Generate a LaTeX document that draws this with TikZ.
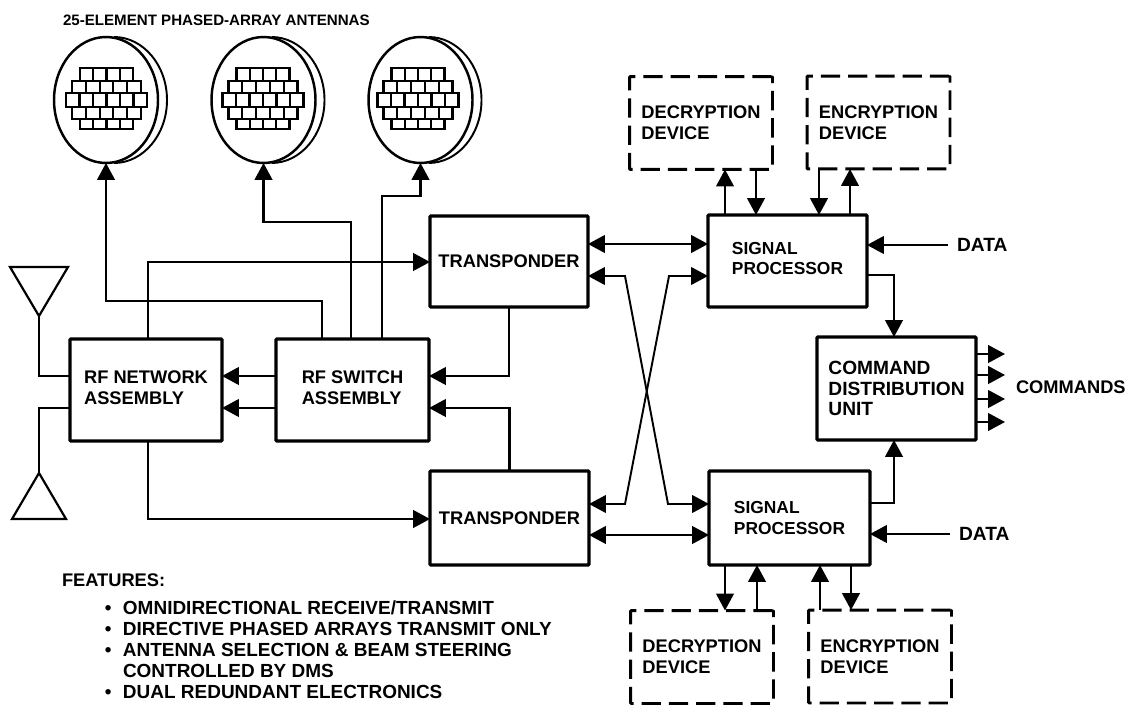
\documentclass[tikz,border=0pt]{standalone}
\usepackage{fontspec}
\setmainfont{Liberation Sans}[BoldFont={Liberation Sans Bold}]
\usetikzlibrary{arrows.meta, shapes.geometric}

\tikzset{
    unitbox/.style={draw, line width=1.9pt, rounded corners=0.5pt, inner sep=0pt, outer sep=0pt, align=left,
        font=\bfseries\fontsize{10.4}{11.8}\selectfont},
    devicebox/.style={unitbox, dash pattern=on 11pt off 4.5pt, line width=1.7pt,
        minimum width=2.86cm, minimum height=1.86cm},
    wire/.style={line width=1.25pt},
    thinwire/.style={line width=1.1pt},
    caption/.style={inner sep=0pt, outer sep=0pt, anchor=west, align=left,
        font=\bfseries\fontsize{10.4}{11.9}\selectfont},
    liftedtext/.style={text depth=2.8pt},
    widetext/.style={font=\bfseries\fontsize{10.9}{11.8}\selectfont},
    signaltext/.style={font=\bfseries\fontsize{9.9}{11.8}\selectfont},
}
\newcommand{\featbullet}{\llap{\textbullet\hspace{6.5pt}}}

\begin{document}
\begin{tikzpicture}[x=0.02cm, y=-0.02cm, >={Triangle[length=9.6pt, width=10pt]}]
    \useasboundingbox (0,0) rectangle (1128,706);

    % Phased-array dishes
    \node[caption, font=\bfseries\fontsize{8.6}{10}\selectfont] (arrayTitle) at (63,20) {25-ELEMENT PHASED-ARRAY ANTENNAS};
    \foreach \i/\cx/\gx in {1/106/106.5, 2/263.5/263, 3/420.5/418} {
        \node[draw, ellipse, line width=1.4pt, inner sep=0pt, outer sep=0pt,
            minimum width=2.08cm, minimum height=2.52cm] (dish\i) at (\cx,100) {};
        \draw[thinwire] (\cx+8,37) .. controls (\cx+37,37) and (\cx+61,65) .. (\cx+61,100)
            .. controls (\cx+61,135) and (\cx+37,163) .. (\cx+8,163);
        \foreach \yt/\yb/\hw/\n in {68/81/26.5/4, 81/93/34.5/5, 93/107/40.5/6, 107/119/34.5/5, 119/129/26.5/4} {
            \foreach \c in {1,...,\n} {
                \draw[line width=1.2pt] ({\gx-\hw+(\c-1)*2*\hw/\n},\yt) rectangle ({\gx-\hw+\c*2*\hw/\n},\yb);
            }
        }
    }

    % Main units
    \node[unitbox, liftedtext, minimum width=3.04cm, minimum height=2.04cm] (networkBox) at (146,390) {RF NETWORK\\ASSEMBLY};
    \node[unitbox, liftedtext, minimum width=3.06cm, minimum height=2.04cm] (switchBox) at (352.5,390) {RF SWITCH\\ASSEMBLY};
    \node[unitbox, minimum width=3.16cm, minimum height=1.82cm] (transTop) at (509,261.5) {TRANSPONDER};
    \node[unitbox, minimum width=3.18cm, minimum height=1.88cm] (transBot) at (509.5,518) {TRANSPONDER};
    \node[unitbox, signaltext, liftedtext, minimum width=3.18cm, minimum height=1.84cm] (signalTop) at (787.5,261) {SIGNAL\\PROCESSOR};
    \node[unitbox, signaltext, minimum width=3.22cm, minimum height=1.88cm] (signalBot) at (789.5,518) {SIGNAL\\PROCESSOR};
    \node[unitbox, widetext, minimum width=3.18cm, minimum height=2.06cm] (commandBox) at (896.5,388.5) {COMMAND\\DISTRIBUTION\\UNIT};

    % Crypto devices
    \node[devicebox] (decryptTop) at (701,123) {DECRYPTION\\DEVICE};
    \node[devicebox] (encryptTop) at (878.5,122.5) {ENCRYPTION\\DEVICE};
    \node[devicebox] (decryptBot) at (702,657) {DECRYPTION\\DEVICE};
    \node[devicebox] (encryptBot) at (880,656.5) {ENCRYPTION\\DEVICE};

    % Omni antennas
    \coordinate (omniTop) at (39,316);
    \coordinate (omniBot) at (39,473);
    \draw[wire, line join=miter] (10,267) -- (68,267) -- (omniTop) -- cycle;
    \draw[wire, line join=miter] (12,519) -- (66,519) -- (omniBot) -- cycle;
    \draw[wire] (omniTop) |- (networkBox.west |- 0,376);
    \draw[wire] (omniBot) |- (networkBox.west |- 0,408);

    % RF network and switch
    \draw[wire, ->] (switchBox.west |- 0,376) -- (networkBox.east |- 0,376);
    \draw[wire, ->] (switchBox.west |- 0,408) -- (networkBox.east |- 0,408);
    \draw[wire, ->] (148,0 |- networkBox.north) |- (transTop.west |- 0,262);
    \draw[wire, ->] (148,0 |- networkBox.south) |- (transBot.west |- 0,519);
    \draw[wire, ->] (transTop.south) |- (switchBox.east |- 0,376);
    \draw[wire, ->] (transBot.north) |- (switchBox.east |- 0,408);

    % Switch to dishes
    \draw[wire, ->] (322,0 |- switchBox.north) |- (dish1.south |- 0,301) -- (dish1.south);
    \draw[wire, ->] (351,0 |- switchBox.north) |- (dish2.south |- 0,222) -- (dish2.south);
    \draw[wire, ->] (382,0 |- switchBox.north) |- (dish3.south |- 0,196) -- (dish3.south);

    % Transponders and signal processors
    \draw[wire, <->] (transTop.east |- 0,244) -- (signalTop.west |- 0,244);
    \draw[wire, <->] (transBot.east |- 0,535) -- (signalBot.west |- 0,535);
    \draw[thinwire, <->] (transTop.east |- 0,276) -- (625,276) -- (668,504) -- (signalBot.west |- 0,504);
    \draw[thinwire, <->] (transBot.east |- 0,504) -- (625,504) -- (669,276) -- (signalTop.west |- 0,276);

    % Device links, top
    \draw[wire, ->] (725,0 |- signalTop.north) -- (725,0 |- decryptTop.south);
    \draw[wire, ->] (756,0 |- decryptTop.south) -- (756,0 |- signalTop.north);
    \draw[wire, ->] (819,0 |- encryptTop.south) -- (819,0 |- signalTop.north);
    \draw[wire, ->] (850,0 |- signalTop.north) -- (850,0 |- encryptTop.south);

    % Device links, bottom
    \draw[wire, ->] (725,0 |- signalBot.south) -- (725,0 |- decryptBot.north);
    \draw[wire, ->] (757,0 |- decryptBot.north) -- (757,0 |- signalBot.south);
    \draw[wire, ->] (820,0 |- encryptBot.north) -- (820,0 |- signalBot.south);
    \draw[wire, ->] (851,0 |- signalBot.south) -- (851,0 |- encryptBot.north);

    % Data inputs
    \node[caption, widetext] (dataTop) at (957,245) {DATA};
    \node[caption, widetext] (dataBot) at (959,534) {DATA};
    \draw[wire, ->] (dataTop.west) ++(-9,0) -- (signalTop.east |- dataTop.west);
    \draw[wire, ->] (dataBot.west) ++(-9,0) -- (signalBot.east |- dataBot.west);

    % Command unit
    \draw[wire, ->] (signalTop.east |- 0,275) -| (894,0 |- commandBox.north);
    \draw[wire, ->] (signalBot.east |- 0,503) -| (894,0 |- commandBox.south);
    \node[caption] (commandsText) at (1016,387) {COMMANDS};
    \foreach \y in {354,375,399,422} {
        \draw[wire, ->] (commandBox.east |- 0,\y) -- (1005,\y);
    }

    % Feature list
    \node[caption] (featuresHead) at (62,580) {FEATURES:};
    \node[caption, font=\bfseries\fontsize{10.8}{11.9}\selectfont] (featuresList) at (123,650) {\featbullet OMNIDIRECTIONAL RECEIVE/TRANSMIT\\
        \featbullet DIRECTIVE PHASED ARRAYS TRANSMIT ONLY\\
        \featbullet ANTENNA SELECTION \& BEAM STEERING\\
        CONTROLLED BY DMS\\
        \featbullet DUAL REDUNDANT ELECTRONICS};
\end{tikzpicture}
\end{document}
